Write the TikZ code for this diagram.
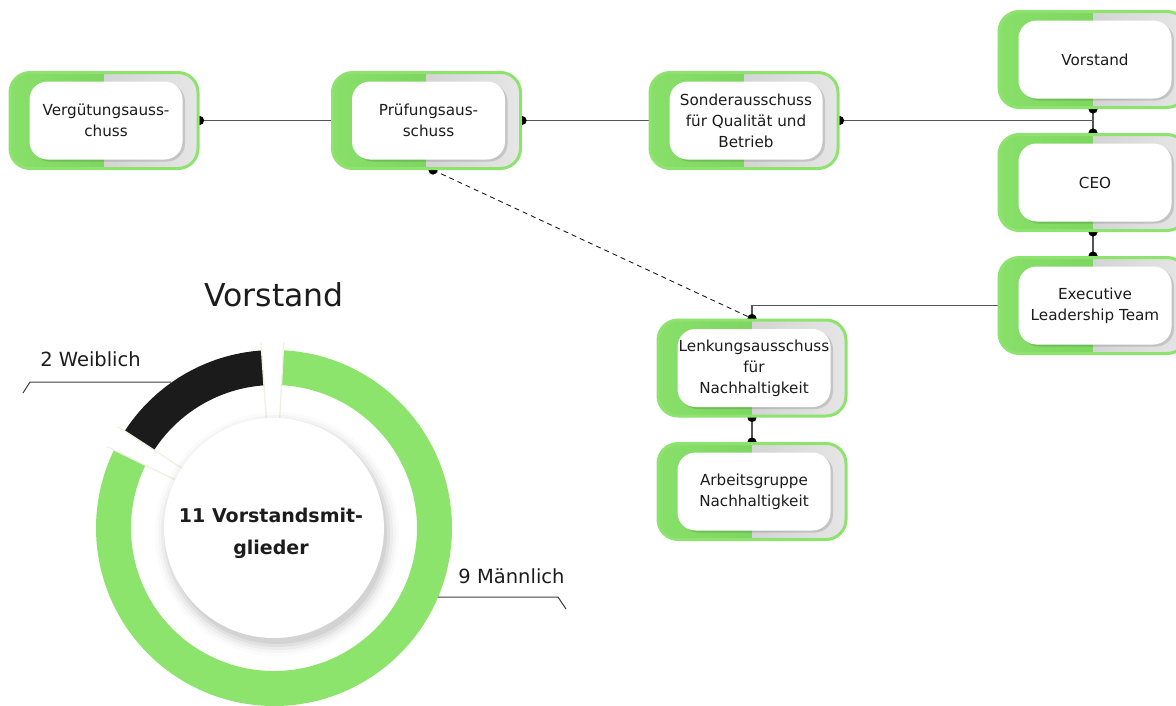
\documentclass[tikz,border=0pt]{standalone}
\usepackage{fontspec}
\setmainfont{DejaVu Sans}
\usetikzlibrary{calc,shadows,backgrounds}
\definecolor{gborder}{HTML}{8EE36E}
\definecolor{gfill}{HTML}{88E06A}
\definecolor{gfilld}{HTML}{72CC57}
\definecolor{grayA}{HTML}{D4D4D4}
\definecolor{grayB}{HTML}{E6E6E6}
\definecolor{ringgreen}{HTML}{8CE46C}
\definecolor{ringblack}{HTML}{1B1B1B}
\definecolor{txt}{HTML}{1C1C1C}
\definecolor{conncol}{HTML}{555555}
\definecolor{gapline}{HTML}{EFF1E2}
\tikzset{
  outerbox/.style={rounded corners=20pt, minimum width=188pt, minimum height=96pt,
    draw=gborder, line width=3pt, inner sep=0pt,
    path picture={
      \shade[sharp corners, left color=gfill, right color=gfilld]
        (path picture bounding box.south west) rectangle (path picture bounding box.north);
      \shade[sharp corners, left color=grayA, right color=grayB]
        (path picture bounding box.south) rectangle (path picture bounding box.north east);
    }},
  innerbox/.style={rounded corners=18pt, minimum width=153pt, minimum height=78pt,
    fill=white, inner sep=1pt, align=center, text=txt,
    font=\fontsize{15.2}{21}\selectfont,
    drop shadow={shadow xshift=2.5pt, shadow yshift=-2pt, opacity=0.13, fill=black}},
  conn/.style={draw=conncol, line width=1.2pt},
  dashconn/.style={draw=txt, line width=0.9pt, dash pattern=on 5pt off 4pt},
  dot/.style={fill=black},
  lbl/.style={text=txt, font=\fontsize{19.5}{24}\selectfont, inner sep=0pt},
  leader/.style={draw=txt!85, line width=1pt},
}
\newcommand\orgbox[4]{%
  \node[outerbox] (#1) at (#2,#3) {};
  \node[innerbox] (#1-in) at ($(#1.center)+(2,0)$) {#4};}
\begin{document}
\begin{tikzpicture}[x=1pt,y=-1pt]
\useasboundingbox (0,0) rectangle (1176,705);

% ---------- org chart boxes ----------
\orgbox{verg}{104}{120.5}{Vergütungsauss-\\chuss}
\orgbox{pruef}{426.5}{120.5}{Prüfungsaus-\\schuss}
\orgbox{sonder}{744}{120.5}{Sonderausschuss\\für Qualität und\\Betrieb}
\orgbox{vorstand}{1093}{59.5}{Vorstand}
\orgbox{ceo}{1093}{182.5}{CEO}
\orgbox{exec}{1093}{305.5}{Executive\\Leadership Team}
\orgbox{lenk}{752}{368}{Lenkungsausschuss\\für\\Nachhaltigkeit}
\orgbox{arbeit}{752}{491.5}{Arbeitsgruppe\\Nachhaltigkeit}

% ---------- connectors ----------
\begin{scope}[on background layer]
  \draw[conn] (verg.east) -- (pruef.west);
  \draw[conn] (pruef.east) -- (sonder.west);
  \draw[conn] (sonder.east) -- (vorstand.south |- sonder.east);
  \draw[conn] (vorstand.south) -- (ceo.north);
  \draw[conn] (ceo.south) -- (exec.north);
  \draw[conn] (exec.west) -| (lenk.north);
  \draw[conn] (lenk.south) -- (arbeit.north);
  \draw[dashconn] ([xshift=6.5pt]pruef.south) -- (lenk.north);
  \foreach \p in {verg.east, pruef.east, sonder.east, vorstand.south, ceo.north,
                  ceo.south, exec.north, lenk.north, lenk.south, arbeit.north}
    \fill[dot] (\p) circle[radius=4.6pt];
  \fill[dot] ([xshift=6.5pt]pruef.south) circle[radius=4.6pt];
\end{scope}

% ---------- donut ----------
\coordinate (c) at (274,528);
\node[text=txt, font=\fontsize{31.5}{36}\selectfont, inner sep=0pt] (title) at (274,295) {Vorstand};

\fill[ringblack] ($(c)+(-94:178)$) arc[start angle=-94, end angle=-147, radius=178]
  -- ($(c)+(-147:143)$) arc[start angle=-147, end angle=-94, radius=143] -- cycle;
\fill[ringgreen] ($(c)+(-87:178)$) arc[start angle=-87, end angle=206, radius=178]
  -- ($(c)+(206:143)$) arc[start angle=206, end angle=-87, radius=143] -- cycle;

\foreach \a in {-94,-87,-147,-154}
  \draw[gapline, line width=1.4pt] ($(c)+(\a:110)$) -- ($(c)+(\a:186)$);

\foreach \r/\o in {122/0.015, 119/0.025, 116/0.035, 113/0.05, 110/0.06}
  \fill[black, opacity=\o] ($(c)+(3,6)$) circle[radius=\r];
\fill[white] (c) circle[radius=110];
\node[text=txt, align=center, font=\bfseries\fontsize{19}{32}\selectfont] (ctext) at (271,533)
  {11 Vorstandsmit-\\glieder};

% ---------- legend labels ----------
\node[lbl] (weib) at (90.5,359) {2 Weiblich};
\node[lbl] (maenn) at (511.5,576) {9 Männlich};
\coordinate (w1) at (23,393);
\coordinate (w2) at (30,382);
\coordinate (w3) at (171,382);
\draw[leader] (w1) -- (w2) -- (w3);
\coordinate (m1) at (438,597);
\coordinate (m2) at (558,597);
\coordinate (m3) at (566,609);
\draw[leader] (m1) -- (m2) -- (m3);
\end{tikzpicture}
\end{document}
